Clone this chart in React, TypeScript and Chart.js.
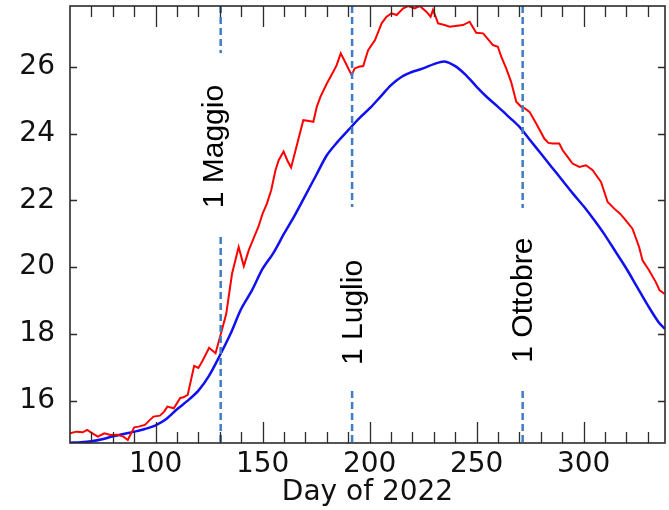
import React, { useEffect, useRef } from 'react';
import { Chart, registerables } from 'chart.js';

Chart.register(...registerables);

// ---- Data ----
const redDays = [
  60, 63, 66, 68, 70.5, 73, 76, 79, 82, 85, 87, 90, 92, 95, 97, 99, 102, 104, 105.5, 108.5,
  111.5, 113, 115, 118, 120, 122, 125, 128, 131, 133, 135.7, 138.8, 141.2, 143.5, 146, 148, 150,
  152, 154, 156, 157.5, 159.8, 161.5, 163.3, 165, 167, 169, 171, 173.7, 175.3, 177, 180, 183,
  184.6, 186.5, 188.5, 191.6, 193, 195, 197, 199.3, 202.5, 205.6, 207.9, 210.2, 212.6, 215.7,
  218, 221, 223.4, 226.5, 228.5, 229.6, 232, 235, 237.4, 240, 243.6, 246.7, 249.8, 253, 255,
  257.6, 259.9, 261.5, 263.8, 266.1, 268.5, 270.8, 272.5, 274.7, 277.8, 281.6, 283.5, 285.5,
  288.6, 290.2, 292.5, 294.8, 298, 301.1, 304.2, 308.1, 311.2, 314.3, 317, 319, 322.8, 325.9,
  327.5, 330.6, 333.7, 335.5, 337.7,
];
const redTemps = [
  15.02, 15.07, 15.05, 15.12, 15.02, 14.92, 15.02, 14.97, 14.98, 14.92, 14.82, 15.2, 15.22, 15.27,
  15.4, 15.52, 15.55, 15.67, 15.82, 15.77, 16.08, 16.1, 16.17, 17.04, 16.98, 17.2, 17.58, 17.42,
  18.12, 18.6, 19.8, 20.6, 20.03, 20.5, 20.9, 21.2, 21.6, 21.9, 22.3, 22.9, 23.2, 23.46, 23.2,
  22.98, 23.4, 23.9, 24.4, 24.38, 24.35, 24.8, 25.1, 25.5, 25.85, 26.05, 26.4, 26.15, 25.75,
  25.95, 26.0, 26.02, 26.5, 26.8, 27.3, 27.5, 27.6, 27.55, 27.75, 27.82, 27.75, 27.82, 27.65,
  27.5, 27.7, 27.3, 27.25, 27.2, 27.22, 27.25, 27.35, 27.02, 27.0, 26.85, 26.65, 26.6, 26.3,
  25.95, 25.55, 24.95, 24.8, 24.75, 24.65, 24.3, 23.85, 23.72, 23.7, 23.7, 23.5, 23.3, 23.1,
  23.0, 23.05, 22.9, 22.55, 21.95, 21.75, 21.6, 21.45, 21.15, 20.6, 20.2, 19.9, 19.55, 19.3, 19.2,
];

const blueDays = [
  60, 65, 70, 75, 80, 85, 90, 95, 100, 105, 110, 115, 120, 125, 130, 135, 140, 145, 150, 155,
  160, 165, 170, 175, 180, 185, 190, 195, 200, 205, 210, 215, 220, 225, 230, 235, 240, 245, 250,
  255, 260, 265, 270, 275, 280, 285, 290, 295, 300, 305, 310, 315, 320, 325, 330, 335, 338,
];
const blueTemps = [
  14.74, 14.75, 14.78, 14.84, 14.93, 15.0, 15.07, 15.15, 15.26, 15.45, 15.74, 16.0, 16.3, 16.75,
  17.35, 18.0, 18.75, 19.3, 19.95, 20.42, 21.0, 21.55, 22.15, 22.75, 23.35, 23.75, 24.1, 24.45,
  24.75, 25.1, 25.45, 25.7, 25.85, 25.95, 26.08, 26.16, 26.02, 25.75, 25.4, 25.08, 24.8, 24.5,
  24.2, 23.8, 23.4, 23.0, 22.6, 22.2, 21.82, 21.4, 20.95, 20.45, 19.95, 19.4, 18.85, 18.35, 18.15,
];

const xTickValues = [100, 150, 200, 250, 300];
const yTickValues = [16, 18, 20, 22, 24, 26];
const xAxisTitle = 'Day of 2022';

const markerDays = [130.4, 191.8, 271.5];
const markerLabels = ['1 Maggio', '1 Luglio', '1 Ottobre'];

// label placement (in axis values / pixel offsets) – layout, not data
const markerLayout = [
  { textCenter: 23.61, baselineOffset: 2.5, gapTop: 26.41, gapBottom: 21.02 },
  { textCenter: 18.64, baselineOffset: 9.5, gapTop: 21.8, gapBottom: 16.38 },
  { textCenter: 19.01, baselineOffset: 9.3, gapTop: 21.77, gapBottom: 16.38 },
];

const X_MIN = 60;
const X_MAX = 338;
const Y_MIN = 14.73;
const Y_MAX = 27.82;

const overlayPlugin = {
  id: 'overlay',
  afterDatasetsDraw(chart: any) {
    const { ctx, chartArea: ca, scales } = chart;
    const x = scales.x;
    const y = scales.y;
    ctx.save();
    ctx.beginPath();
    ctx.rect(ca.left, ca.top, ca.right - ca.left, ca.bottom - ca.top);
    ctx.clip();
    markerDays.forEach((d, i) => {
      const px = x.getPixelForValue(d);
      ctx.save();
      ctx.strokeStyle = '#3f7cc6';
      ctx.lineWidth = 2.5;
      ctx.setLineDash([7, 4]);
      ctx.beginPath();
      ctx.moveTo(px, ca.top);
      ctx.lineTo(px, ca.bottom);
      ctx.stroke();
      ctx.restore();

      const L = markerLayout[i];
      const yTop = y.getPixelForValue(L.gapTop);
      const yBot = y.getPixelForValue(L.gapBottom);
      ctx.fillStyle = '#ffffff';
      ctx.fillRect(px - 22, yTop, 36, yBot - yTop);

      ctx.save();
      ctx.translate(px + L.baselineOffset, y.getPixelForValue(L.textCenter));
      ctx.rotate(-Math.PI / 2);
      ctx.fillStyle = '#000000';
      ctx.font = '30px "Liberation Sans", Arial, sans-serif';
      ctx.textAlign = 'center';
      ctx.textBaseline = 'alphabetic';
      ctx.fillText(markerLabels[i], 0, 0);
      ctx.restore();
    });
    ctx.restore();
  },
  afterDraw(chart: any) {
    const { ctx, chartArea: ca, scales } = chart;
    const x = scales.x;
    const y = scales.y;
    ctx.save();
    ctx.strokeStyle = '#2b2b2b';
    ctx.lineWidth = 1.3;
    ctx.beginPath();
    // x ticks (inward, top & bottom), minor every 10, major every 50
    for (let d = 70; d < X_MAX; d += 10) {
      const px = Math.round(x.getPixelForValue(d)) + 0.5;
      const len = d % 50 === 0 ? 21 : 11;
      ctx.moveTo(px, ca.bottom);
      ctx.lineTo(px, ca.bottom - len);
      ctx.moveTo(px, ca.top);
      ctx.lineTo(px, ca.top + len);
    }
    // y ticks (inward, left & right)
    yTickValues.forEach((v) => {
      const py = Math.round(y.getPixelForValue(v)) + 0.5;
      ctx.moveTo(ca.left, py);
      ctx.lineTo(ca.left + 7, py);
      ctx.moveTo(ca.right, py);
      ctx.lineTo(ca.right - 7, py);
    });
    ctx.stroke();
    ctx.lineWidth = 1.6;
    ctx.strokeRect(ca.left, ca.top, ca.right - ca.left, ca.bottom - ca.top);
    ctx.restore();
  },
};

export default function App() {
  const canvasRef = useRef<HTMLCanvasElement | null>(null);

  useEffect(() => {
    document.body.style.margin = '0';
    const canvas = canvasRef.current;
    if (!canvas) return;
    const redData = redDays.map((d, i) => ({ x: d, y: redTemps[i] }));
    const blueData = blueDays.map((d, i) => ({ x: d, y: blueTemps[i] }));

    const chart = new Chart(canvas, {
      type: 'line',
      data: {
        datasets: [
          {
            label: 'red',
            data: redData,
            borderColor: '#ff0000',
            borderWidth: 2,
            pointRadius: 0,
            tension: 0,
            fill: false,
          },
          {
            label: 'blue',
            data: blueData,
            borderColor: '#1010f0',
            borderWidth: 2.5,
            pointRadius: 0,
            tension: 0.3,
            fill: false,
          },
        ],
      },
      options: {
        responsive: false,
        animation: false,
        devicePixelRatio: 1,
        layout: { padding: { top: 6, right: 4, left: 0, bottom: 0 } },
        plugins: {
          legend: { display: false },
          tooltip: { enabled: false },
        },
        scales: {
          x: {
            type: 'linear',
            min: X_MIN,
            max: X_MAX,
            grid: { display: false, drawTicks: false },
            border: { display: false },
            afterBuildTicks: (scale: any) => {
              scale.ticks = xTickValues.map((v) => ({ value: v }));
            },
            afterFit: (scale: any) => {
              scale.height = 67;
              scale.paddingLeft = 0;
              scale.paddingRight = 0;
              scale.paddingTop = 0;
              scale.paddingBottom = 0;
            },
            ticks: {
              padding: 5,
              maxRotation: 0,
              autoSkip: false,
              color: '#111111',
              font: { family: 'DejaVu Sans', size: 28 },
              callback: (v: any) => String(v),
            },
            title: {
              display: true,
              text: xAxisTitle,
              color: '#111111',
              font: { family: 'DejaVu Sans', size: 28 },
              padding: { top: 0, bottom: 0 },
            },
          },
          y: {
            type: 'linear',
            min: Y_MIN,
            max: Y_MAX,
            grid: { display: false, drawTicks: false },
            border: { display: false },
            afterBuildTicks: (scale: any) => {
              scale.ticks = yTickValues.map((v) => ({ value: v }));
            },
            afterFit: (scale: any) => {
              scale.width = 70;
              scale.paddingLeft = 0;
              scale.paddingRight = 0;
              scale.paddingTop = 0;
              scale.paddingBottom = 0;
            },
            ticks: {
              padding: 15,
              autoSkip: false,
              color: '#111111',
              font: { family: 'DejaVu Sans', size: 28 },
              callback: (v: any) => String(v),
            },
          },
        },
      },
      plugins: [overlayPlugin],
    });
    return () => chart.destroy();
  }, []);

  return (
    <div style={{ width: 669, height: 510, background: '#ffffff' }}>
      <canvas ref={canvasRef} width={669} height={510} style={{ display: 'block' }} />
    </div>
  );
}
